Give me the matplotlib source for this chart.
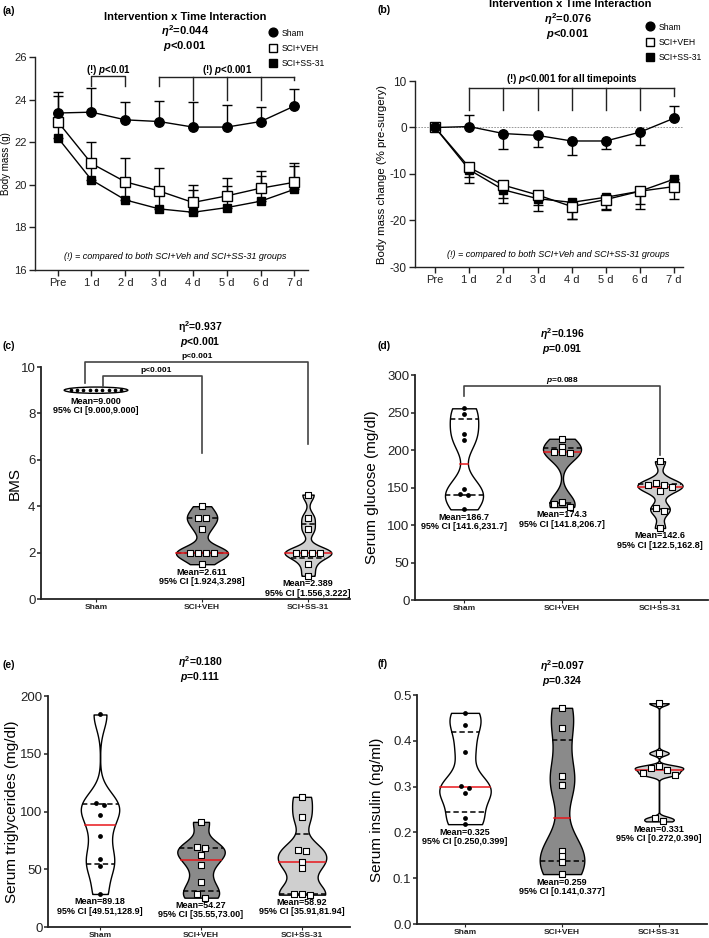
import numpy as np
import matplotlib
matplotlib.use("Agg")
import matplotlib.pyplot as plt
from matplotlib.patches import Ellipse
from matplotlib.lines import Line2D

plt.rcParams['font.family'] = ['Liberation Sans', 'DejaVu Sans']
plt.rcParams['mathtext.fontset'] = 'custom'
plt.rcParams['mathtext.rm'] = 'Liberation Sans:bold'
plt.rcParams['mathtext.it'] = 'Liberation Sans:italic:bold'
plt.rcParams['mathtext.bf'] = 'Liberation Sans:bold'
plt.rcParams['mathtext.sf'] = 'Liberation Sans:bold'
plt.rcParams['axes.unicode_minus'] = False

# ---------------- data ----------------
timepoints = ["Pre", "1 d", "2 d", "3 d", "4 d", "5 d", "6 d", "7 d"]
groups = ["Sham", "SCI+VEH", "SCI+SS-31"]

# (a) body mass (g), mean and one-sided SD
mass_sham = [23.37, 23.41, 23.05, 22.97, 22.71, 22.71, 22.97, 23.70]
mass_sham_sd = [0.98, 1.13, 0.82, 0.96, 1.19, 1.03, 0.68, 0.80]
mass_veh = [22.97, 21.00, 20.14, 19.71, 19.17, 19.48, 19.84, 20.12]
mass_veh_sd = [1.18, 1.00, 1.11, 1.07, 0.81, 0.86, 0.83, 0.90]
mass_ss31 = [22.22, 20.23, 19.29, 18.87, 18.71, 18.93, 19.23, 19.79]
mass_ss31_sd = [0.80, 0.70, 0.80, 0.80, 1.05, 1.02, 1.16, 1.07]

# (b) body mass change (% pre-surgery)
chg_sham = [0.0, 0.2, -1.3, -1.7, -2.9, -2.9, -1.0, 2.0]
chg_sham_sd = [0.0, 2.55, 3.3, 2.5, 3.1, 1.7, 2.7, 2.7]
chg_veh = [0.0, -8.6, -12.4, -14.5, -17.0, -15.5, -13.7, -12.7]
chg_veh_sd = [0.0, 3.4, 3.9, 3.5, 2.7, 2.2, 3.8, 2.6]
chg_ss31 = [0.0, -9.1, -13.4, -15.3, -16.1, -15.0, -13.7, -11.1]
chg_ss31_sd = [0.0, 1.6, 1.8, 1.3, 3.5, 2.5, 2.7, 2.0]

# (c) BMS
bms_sham = [9, 9, 9, 9, 9, 9, 9, 9, 9]
bms_veh = [4.0, 3.5, 3.5, 3.0, 2.0, 2.0, 2.0, 2.0, 1.5]
bms_ss31 = [4.5, 3.5, 3.0, 2.0, 2.0, 2.0, 2.0, 1.5, 1.0]
bms_means = ["9.000", "2.611", "2.389"]
bms_ci = ["[9.000,9.000]", "[1.924,3.298]", "[1.556,3.222]"]

# (d) serum glucose
glu_sham = [255.6, 247.6, 222.0, 213.0, 148.4, 141.3, 139.6, 120.9]
glu_veh = [215.0, 204.0, 198.0, 197.5, 196.5, 131.0, 128.0, 124.0]
glu_ss31 = [185.0, 156.0, 154.0, 153.5, 151.0, 145.0, 123.0, 119.0, 96.0]
glu_means = ["186.7", "174.3", "142.6"]
glu_ci = ["[141.6,231.7]", "[141.8,206.7]", "[122.5,162.8]"]

# (e) serum triglycerides
tg_sham = [184.0, 107.0, 105.5, 97.0, 79.0, 59.0, 52.6, 28.6]
tg_veh = [91.0, 69.0, 68.0, 62.0, 53.5, 39.0, 28.3, 25.4]
tg_ss31 = [112.7, 95.4, 66.5, 65.6, 56.0, 51.4, 28.9, 28.3, 28.0]
tg_means = ["89.18", "54.27", "58.92"]
tg_ci = ["[49.51,128.9]", "[35.55,73.00]", "[35.91,81.94]"]

# (f) serum insulin
ins_sham = [0.461, 0.434, 0.376, 0.302, 0.296, 0.285, 0.231, 0.218]
ins_veh = [0.472, 0.428, 0.323, 0.304, 0.160, 0.149, 0.135, 0.109]
ins_ss31 = [0.482, 0.373, 0.344, 0.341, 0.336, 0.330, 0.325, 0.231, 0.224]
ins_means = ["0.325", "0.259", "0.331"]
ins_ci = ["[0.250,0.399]", "[0.141,0.377]", "[0.272,0.390]"]

# ---------------- figure ----------------
W, H = 709, 938
fig = plt.figure(figsize=(W / 100, H / 100), dpi=100)
INK = "#222222"


def rect(l, t, r, b):
    return [l / W, 1 - b / H, (r - l) / W, (b - t) / H]


def ftext(x, y, s, **kw):
    kw.setdefault('ha', 'center')
    kw.setdefault('va', 'center')
    fig.text(x / W, 1 - y / H, s, **kw)


def style_axes(ax, lw=1.0):
    for s in ['top', 'right']:
        ax.spines[s].set_visible(False)
    for s in ['left', 'bottom']:
        ax.spines[s].set_linewidth(lw)
        ax.spines[s].set_color(INK)


def one_sided(means, sds):
    m = np.array(means)
    sd = np.array(sds)
    up = np.where(m >= 0, sd, 0)
    lo = np.where(m < 0, sd, 0)
    return [lo, up]


def place_ylabel(ax, text, size, left_px, width_px, center_px):
    ax.set_ylabel(text, fontsize=size, va='center')
    ax.yaxis.set_label_coords(-(left_px - center_px) / width_px, 0.5)


# ======== panel (a) ========
axa = fig.add_axes(rect(35, 57, 308, 270))
style_axes(axa)
x = np.arange(len(timepoints))
series_a = [(mass_ss31, mass_ss31_sd, dict(marker='s', mfc='black', mec='black', ms=6.2)),
            (mass_veh, mass_veh_sd, dict(marker='s', mfc='white', mec='black', ms=7.0)),
            (mass_sham, mass_sham_sd, dict(marker='o', mfc='black', mec='black', ms=6.8))]
for m, sd, st in series_a:
    axa.errorbar(x, m, yerr=one_sided(m, sd), color='black', lw=1.0, elinewidth=1.0,
                 capsize=3.5, capthick=1.0, **st)
axa.set_xlim(-0.67, 7.4)
axa.set_ylim(16, 26)
axa.set_yticks([16, 18, 20, 22, 24, 26])
axa.set_xticks(x, timepoints)
axa.tick_params(labelsize=8, length=4, width=1, pad=2, colors=INK)
place_ylabel(axa, "Body mass (g)", 7, 35, 273, 6)
# brackets
bk = dict(color=INK, lw=1.0, clip_on=False)
axa.plot([1, 1, 2, 2], [24.65, 25.09, 25.09, 24.65], **bk)
axa.plot([3, 7], [25.06, 25.06], **bk)
for xi, yb in zip([3, 4, 5, 6, 7], [24.62, 24.0, 24.0, 24.0, 24.93]):
    axa.plot([xi, xi], [25.06, yb], **bk)
axa.text(1.5, 25.4, r"(!) $\mathit{p}$<0.01", ha='center', va='center', fontsize=7, fontweight='bold')
axa.text(5.0, 25.4, r"(!) $\mathit{p}$<0.001", ha='center', va='center', fontsize=7, fontweight='bold')
axa.text(3.47, 16.63, "(!) = compared to both SCI+Veh and SCI+SS-31 groups", ha='center',
         va='center', fontsize=6.5, style='italic')
ftext(9, 11, "(a)", fontsize=7.5, fontweight='bold')
ftext(185, 17, "Intervention x Time Interaction", fontsize=8, fontweight='bold')
ftext(185, 31, r"$\mathit{\eta}^{2}$=0.044", fontsize=8, fontweight='bold')
ftext(185, 46, r"$\mathit{p}$<0.001", fontsize=8, fontweight='bold')

leg_handles = [Line2D([], [], ls='none', marker='o', mfc='black', mec='black', ms=6.3),
               Line2D([], [], ls='none', marker='s', mfc='white', mec='black', ms=6.0),
               Line2D([], [], ls='none', marker='s', mfc='black', mec='black', ms=6.0)]
leg_kw = dict(frameon=False, fontsize=6.2, handlelength=1.0, handletextpad=0.5,
              labelspacing=0.72, borderpad=0, borderaxespad=0, loc='upper left')
fig.legend(leg_handles, groups, bbox_to_anchor=(269 / W, 1 - 28.5 / H), **leg_kw)

# ======== panel (b) ========
axb = fig.add_axes(rect(415, 81, 683, 267))
style_axes(axb)
axb.axhline(0, color='#888888', lw=0.6, ls=(0, (2, 1.5)), zorder=0)
series_b = [(chg_ss31, chg_ss31_sd, dict(marker='s', mfc='black', mec='black', ms=6.2)),
            (chg_veh, chg_veh_sd, dict(marker='s', mfc='white', mec='black', ms=7.0)),
            (chg_sham, chg_sham_sd, dict(marker='o', mfc='black', mec='black', ms=6.8))]
for m, sd, st in series_b:
    axb.errorbar(x, m, yerr=one_sided(m, sd), color='black', lw=1.0, elinewidth=1.0,
                 capsize=3.5, capthick=1.0, **st)
axb.set_xlim(-0.59, 7.26)
axb.set_ylim(-30, 10)
axb.set_yticks([-30, -20, -10, 0, 10])
axb.set_xticks(x, timepoints)
axb.tick_params(labelsize=8.5, length=4, width=1, pad=2, colors=INK)
axb.tick_params(axis='x', labelsize=8)
place_ylabel(axb, "Body mass change (% pre-surgery)", 8.2, 415, 268, 382)
axb.plot([1, 7], [8.47, 8.47], **bk)
for xi, yb in zip(range(1, 8), [3.8, 3.66, 3.66, 3.66, 3.66, 3.66, 6.75]):
    axb.plot([xi, xi], [8.47, yb], **bk)
axb.text(4.0, 10.5, r"(!) $\mathit{p}$<0.001 for all timepoints", ha='center', va='center',
         fontsize=7, fontweight='bold')
axb.text(3.6, -27.4, "(!) = compared to both SCI+Veh and SCI+SS-31 groups", ha='center',
         va='center', fontsize=6.5, style='italic')
ftext(384, 10, "(b)", fontsize=7.5, fontweight='bold')
ftext(570, 4, "Intervention x Time Interaction", fontsize=8, fontweight='bold')
ftext(568, 19, r"$\mathit{\eta}^{2}$=0.076", fontsize=8, fontweight='bold')
ftext(568, 34, r"$\mathit{p}$<0.001", fontsize=8, fontweight='bold')
fig.legend(leg_handles, groups, bbox_to_anchor=(645.5 / W, 1 - 22.5 / H), **leg_kw)


# ======== violin helpers ========
def nrd0(v):
    v = np.asarray(v, float)
    sd = v.std(ddof=1)
    q75, q25 = np.percentile(v, [75, 25])
    lo = min(sd, (q75 - q25) / 1.34)
    if lo <= 0:
        lo = sd if sd > 0 else 1.0
    return 0.9 * lo * len(v) ** -0.2


def density(v, adjust):
    v = np.asarray(v, float)
    bw = nrd0(v) * adjust
    ys = np.linspace(v.min(), v.max(), 512)
    d = np.exp(-0.5 * ((ys[:, None] - v[None, :]) / bw) ** 2).sum(1) / (len(v) * bw * np.sqrt(2 * np.pi))
    return ys, d


def swarm_x(ax, xc, vals, s_px=8.0, thr_px=4.4):
    vals = np.asarray(vals, float)
    pts = ax.transData.transform(np.column_stack([np.full(len(vals), xc), vals]))
    ypx = pts[:, 1]
    xpx0 = pts[0, 0]
    order = np.argsort(-ypx, kind='stable')
    clusters = [[order[0]]]
    for a, b in zip(order[:-1], order[1:]):
        if abs(ypx[a] - ypx[b]) < thr_px:
            clusters[-1].append(b)
        else:
            clusters.append([b])
    xout = np.zeros(len(vals))
    for cl in clusters:
        n = len(cl)
        pos = (np.arange(n) - (n - 1) / 2) * s_px
        pos_sorted = sorted(pos, key=lambda p: (round(abs(p), 6), p))
        for idx, p in zip(cl, pos_sorted):
            xout[idx] = xpx0 + p
    back = ax.transData.inverted().transform(np.column_stack([xout, ypx]))
    return back[:, 0]


FILLS = ['white', '#8a8a8a', '#cfcfcf']


def violin_panel(rectpx, xlim, ylim, yticks, yfmt, ylabel, ylabel_x, datasets, means, cis,
                 halfw, adjust=0.58, ellipse_h=None, sham_spacing=8.0):
    ax = fig.add_axes(rect(*rectpx))
    style_axes(ax, lw=1.3)
    ax.set_xlim(*xlim)
    ax.set_ylim(*ylim)
    ax.set_yticks(yticks)
    ax.set_yticklabels([yfmt.format(t) for t in yticks])
    ax.set_xticks([0, 1, 2])
    ax.set_xticklabels(groups, fontsize=6, fontweight='bold')
    ax.tick_params(axis='y', labelsize=9.5, length=3, width=1.1, pad=1, colors=INK)
    ax.tick_params(axis='x', length=2, width=0.8, pad=1.5, colors=INK)
    wpx = rectpx[2] - rectpx[0]
    place_ylabel(ax, ylabel, 11, rectpx[0], wpx, ylabel_x)
    for i, v in enumerate(datasets):
        v = np.asarray(v, float)
        if np.ptp(v) == 0:
            e = Ellipse((i, v[0]), 2 * halfw[i], ellipse_h, facecolor='white', edgecolor='black', lw=1.0, zorder=2)
            ax.add_patch(e)
            bottom = v[0] - ellipse_h / 2
            xs = swarm_x(ax, i, v, s_px=sham_spacing)
            ax.scatter(xs, v, s=7, color='black', zorder=4, linewidths=0)
        else:
            ys, d = density(v, adjust)
            scale = halfw[i] / d.max()
            ax.fill_betweenx(ys, i - d * scale, i + d * scale, facecolor=FILLS[i],
                             edgecolor='black', lw=1.0, zorder=2)
            qs = np.percentile(v, [25, 50, 75], method='weibull')
            for yq, col, ls in zip(qs, ['black', '#e8161b', 'black'],
                                   [(0, (3.5, 2)), '-', (0, (3.5, 2))]):
                hw = np.interp(yq, ys, d) * scale
                ax.plot([i - hw, i + hw], [yq, yq], color=col, lw=1.1, ls=ls, zorder=3)
            bottom = v.min()
            xs = swarm_x(ax, i, v)
            if i == 0:
                ax.scatter(xs, v, s=12, color='black', zorder=4, linewidths=0)
            else:
                ax.scatter(xs, v, s=14, marker='s', facecolor='white', edgecolor='black',
                           linewidths=0.8, zorder=4)
        ax.annotate("Mean=" + means[i] + "\n95% CI " + cis[i], xy=(i, bottom), xytext=(0, -2.5),
                    textcoords='offset points', ha='center', va='top', fontsize=6.5,
                    fontweight='bold', linespacing=1.05, annotation_clip=False)
    return ax


# ======== panel (c) ========
axc = violin_panel((41, 367, 350, 599), (-0.519, 2.396), (0, 10), [0, 2, 4, 6, 8, 10], "{:g}",
                   "BMS", 15, [bms_sham, bms_veh, bms_ss31], bms_means, bms_ci,
                   halfw=[0.30, 0.245, 0.22], ellipse_h=0.27, sham_spacing=6.3)
bc = dict(color='#444444', lw=1.2, clip_on=False)
axc.plot([-0.10, -0.10, 2, 2], [9.3, 10.2, 10.2, 6.68], **bc)
axc.plot([0.07, 0.07, 1, 1], [9.2, 9.6, 9.6, 6.3], **bc)
axc.text(0.95, 10.45, "p<0.001", ha='center', va='center', fontsize=6, fontweight='bold')
axc.text(0.57, 9.85, "p<0.001", ha='center', va='center', fontsize=6, fontweight='bold')
ftext(9, 346, "(c)", fontsize=7.5, fontweight='bold')
ftext(200, 327, r"$\mathrm{\eta}^{2}$=0.937", fontsize=7.5, fontweight='bold')
ftext(200, 342, r"$\mathit{p}$<0.001", fontsize=7.5, fontweight='bold')

# ======== panel (d) ========
axd = violin_panel((415, 375, 708, 600), (-0.5, 2.49), (0, 300), [0, 50, 100, 150, 200, 250, 300],
                   "{:g}", "Serum glucose (mg/dl)", 372, [glu_sham, glu_veh, glu_ss31],
                   glu_means, glu_ci, halfw=[0.194, 0.194, 0.23])
axd.plot([0, 0, 2, 2], [272, 285, 285, 193], **bc)
axd.text(1.0, 293, r"$\mathit{p}$=0.088", ha='center', va='center', fontsize=6, fontweight='bold')
ftext(384, 346, "(d)", fontsize=7.5, fontweight='bold')
ftext(562, 334, r"$\mathit{\eta}^{2}$=0.196", fontsize=7.5, fontweight='bold')
ftext(562, 349, r"$\mathit{p}$=0.091", fontsize=7.5, fontweight='bold')

# ======== panel (e) ========
axe = violin_panel((48, 696, 350, 927), (-0.515, 2.475), (0, 200), [0, 50, 100, 150, 200], "{:g}",
                   "Serum triglycerides (mg/dl)", 12, [tg_sham, tg_veh, tg_ss31], tg_means, tg_ci,
                   halfw=[0.19, 0.235, 0.24])
ftext(9, 665, "(e)", fontsize=7.5, fontweight='bold')
ftext(200, 662, r"$\mathit{\eta}^{2}$=0.180", fontsize=7.5, fontweight='bold')
ftext(200, 677, r"$\mathit{p}$=0.111", fontsize=7.5, fontweight='bold')

# ======== panel (f) ========
axf = violin_panel((417, 695, 707, 924), (-0.495, 2.495), (0, 0.5), [0, 0.1, 0.2, 0.3, 0.4, 0.5],
                   "{:.1f}", "Serum insulin (ng/ml)", 377, [ins_sham, ins_veh, ins_ss31], ins_means,
                   ins_ci, halfw=[0.265, 0.23, 0.25])
ftext(383, 664, "(f)", fontsize=7.5, fontweight='bold')
ftext(562, 666, r"$\mathit{\eta}^{2}$=0.097", fontsize=7.5, fontweight='bold')
ftext(562, 681, r"$\mathit{p}$=0.324", fontsize=7.5, fontweight='bold')

fig.savefig("out.png", dpi=100, facecolor='white')
